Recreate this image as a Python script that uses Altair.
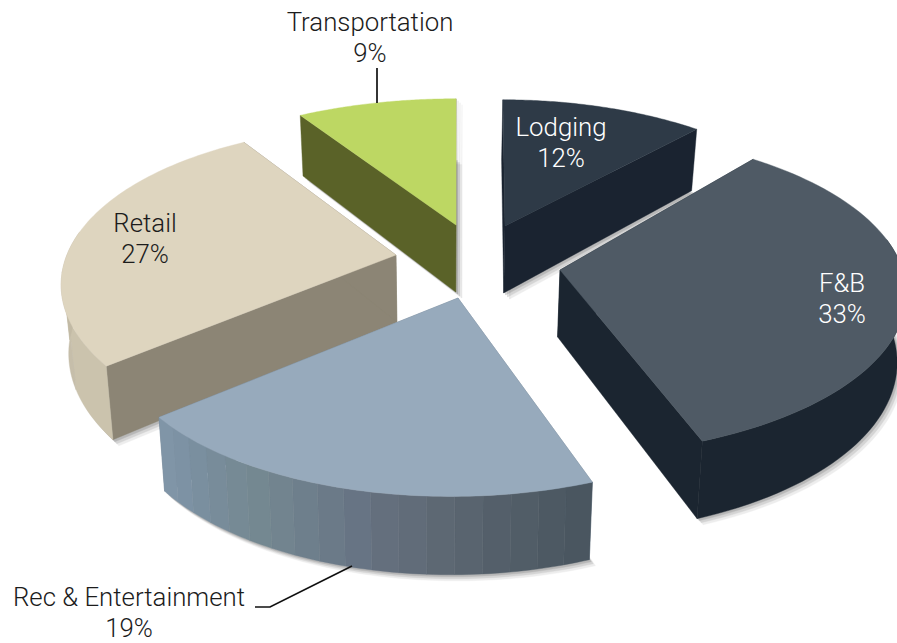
import math
import altair as alt

# Spending shares by category, clockwise from twelve o'clock
categories = ["Lodging", "F&B", "Rec & Entertainment", "Retail", "Transportation"]
shares = [12, 33, 19, 27, 9]

# Slice colours: top face, radial wall, outer wall bands
top_colors = ["#2e3a47", "#4f5a65", "#97aabc", "#ded5bf", "#bdd763"]
wall_colors = ["#1a2330", "#1b2530", "#6f8090", "#8c8575", "#5a6228"]
rim_bands = [
    ["#1a2330"],
    ["#1b2530"],
    ["#4a5660", "#4d5963", "#515d67", "#545f6a", "#59646f", "#5d6873", "#616c79",
     "#646f7d", "#677484", "#6b7a88", "#6e7f8c", "#72848f", "#748891", "#768a95",
     "#788c9a", "#7a8f9f", "#7d92a4", "#8095a7"],
    ["#cbc3ad", "#c6beaa", "#c2baa5"],
    ["#5a6228"],
]

# Pseudo-3D projection settings (screen pixels)
RADIUS = 338
DEPTH_RATIO = 154
PERSPECTIVE = 0.22
THICKNESS = 67
apex_x = [505, 560, 458, 396, 456]
apex_y = [226, 270, 298, 255, 225]
turn = [0, -1.5, -1.5, 0, 0]
lean = [12, 0, -25, 25, 0]
stretch = [0.97, 1.0, 0.99, 0.97, 1.02]
rim_shift = [0, -12, 1, -3, 0]
draw_order = [4, 0, 3, 1, 2]

# Label placement (screen pixels)
label_x = [561, 842, 129, 145, 370]
label_y = [128, 284, 598, 224, 23]
label_color = ["#ffffff", "#ffffff", "#1c1c1c", "#1c1c1c", "#1c1c1c"]
leaders = [
    [[377, 68], [377, 103]],
    [[255, 607], [270, 607], [352, 566]],
]


def rim_point(i, theta):
    c = math.cos(math.radians(theta))
    s = math.sin(math.radians(theta))
    f = 1 / (1 + PERSPECTIVE * c)
    return (
        apex_x[i] + RADIUS * stretch[i] * s * f + lean[i] * (f - 1),
        apex_y[i] - DEPTH_RATIO * c * f + rim_shift[i],
        f,
    )


def lowered(pt):
    # Drop a top-face point to the bottom face of the wedge
    x, y, f = pt
    return (440 + (x - 440) * 0.98, y + THICKNESS * (1 + 0.6 * (f - 1)))


def polygon(points, fill, opacity=1.0, dx=0, dy=0):
    ring = [[p[0] + dx, p[1] + dy] for p in points]
    ring.append(ring[0])
    return {
        "type": "Feature",
        "geometry": {"type": "Polygon", "coordinates": [ring]},
        "properties": {"fill": fill, "opacity": opacity},
    }


cumulative = [sum(shares[:i]) * 3.6 for i in range(len(shares) + 1)]
features = []
for i in draw_order:
    a0, a1 = cumulative[i] + turn[i], cumulative[i + 1] + turn[i]
    apex = (apex_x[i], apex_y[i], 1.0)
    apex_low = lowered(apex)
    n = 72
    arc_angles = [a0 + (a1 - a0) * k / n for k in range(n + 1)]
    rim = [rim_point(i, a) for a in arc_angles]
    rim_low = [lowered(p) for p in rim]
    hull_top = [apex[:2]] + [p[:2] for p in rim]

    # Soft drop shadow built from a few offset silhouettes
    for off, op in [(6, 0.10), (4, 0.16), (2, 0.22)]:
        features.append(polygon([apex_low] + rim_low, "#555555", op, off, off))
        if i in (0, 4):
            features.append(polygon(
                [apex_low, apex[:2], rim[-1 if i == 4 else 0][:2],
                 rim_low[-1 if i == 4 else 0]],
                "#555555", op, off, off))

    # Radial walls
    for end in (rim[0], rim[-1]):
        wall = [apex[:2], end[:2], lowered(end), apex_low]
        features.append(polygon(wall, wall_colors[i]))

    # Outer wall, split into vertical colour bands on the near side
    near = [a for a in arc_angles if math.cos(math.radians(a)) < 0.15]
    if near:
        bands = rim_bands[i]
        step = max(1, len(near) // len(bands))
        for b in range(len(bands)):
            chunk = near[b * step: (b + 1) * step + 1] if b < len(bands) - 1 else near[b * step:]
            if len(chunk) < 2:
                continue
            up = [rim_point(i, a) for a in chunk]
            features.append(polygon(
                [p[:2] for p in up] + [lowered(p) for p in up[::-1]], bands[b]))

    # Top face
    features.append(polygon(hull_top, top_colors[i]))

projection = alt.Projection(type="identity", scale=1, translate=[0, 0])

slices = alt.Chart(alt.Data(values=features)).mark_geoshape(strokeWidth=0.4).encode(
    fill=alt.Fill("properties.fill:N", scale=None),
    stroke=alt.Stroke("properties.fill:N", scale=None),
    opacity=alt.Opacity("properties.opacity:Q", scale=None),
)

leader_features = [
    {"type": "Feature", "geometry": {"type": "LineString", "coordinates": c}, "properties": {}}
    for c in leaders
]
leader_lines = alt.Chart(alt.Data(values=leader_features)).mark_geoshape(
    filled=False, stroke="#111111", strokeWidth=1.7
)

rows = []
for name, share, x, y, col in zip(categories, shares, label_x, label_y, label_color):
    rows.append({"text": name, "x": x, "y": y, "col": col})
    rows.append({"text": f"{share}%", "x": x, "y": y + 31, "col": col})

labels = alt.Chart(alt.Data(values=rows)).mark_text(
    font="Roboto", fontWeight=300, fontSize=25.8, align="center", baseline="middle"
).encode(
    longitude="x:Q",
    latitude="y:Q",
    text="text:N",
    color=alt.Color("col:N", scale=None),
)

chart = alt.layer(slices, leader_lines, labels).properties(
    width=897, height=643, padding=0, autosize=alt.AutoSizeParams(type="none"),
    projection=projection, background="#ffffff",
).configure_view(stroke=None)

chart.save("out.html", embed_options={"renderer": "svg", "actions": False})
